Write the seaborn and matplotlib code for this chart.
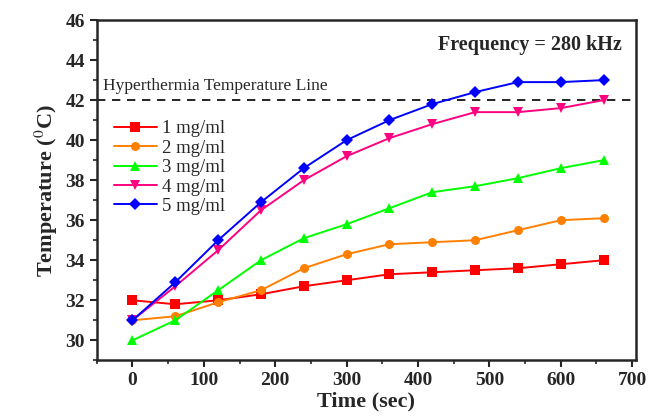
import numpy as np
import pandas as pd
import matplotlib
matplotlib.use("Agg")
import matplotlib.pyplot as plt
import seaborn as sns
from matplotlib.ticker import MultipleLocator

# Datos
tiempo = [0, 60, 120, 180, 240, 300, 360, 420, 480, 540, 600, 660]
conc_1 = [32.0, 31.8, 32.0, 32.3, 32.7, 33.0, 33.3, 33.4, 33.5, 33.6, 33.8, 34.0]
conc_2 = [31.0, 31.2, 31.9, 32.5, 33.6, 34.3, 34.8, 34.9, 35.0, 35.5, 36.0, 36.1]
conc_3 = [30.0, 31.0, 32.5, 34.0, 35.1, 35.8, 36.6, 37.4, 37.7, 38.1, 38.6, 39.0]
conc_4 = [31.0, 32.7, 34.5, 36.5, 38.0, 39.2, 40.1, 40.8, 41.4, 41.4, 41.6, 42.0]
conc_5 = [31.0, 32.9, 35.0, 36.9, 38.6, 40.0, 41.0, 41.8, 42.4, 42.9, 42.9, 43.0]
etiquetas = ["1 mg/ml", "2 mg/ml", "3 mg/ml", "4 mg/ml", "5 mg/ml"]
temp_hipertermia = 42

series = [conc_1, conc_2, conc_3, conc_4, conc_5]
df = pd.concat(
    [pd.DataFrame({"Tiempo": tiempo, "Temperatura": s, "Muestra": e}) for s, e in zip(series, etiquetas)],
    ignore_index=True,
)

sns.set_style("ticks")
plt.rcParams["font.family"] = ["Liberation Serif", "DejaVu Serif"]
plt.rcParams["mathtext.fontset"] = "stix"

colores = ["#FF0000", "#FF8000", "#00FF00", "#FF0080", "#0000FF"]
marcadores = ["s", "o", "^", "v", "D"]

fig, ax = plt.subplots(figsize=(6.54, 4.18), dpi=100)
sns.lineplot(
    data=df, x="Tiempo", y="Temperatura", hue="Muestra", style="Muestra",
    palette=colores, markers=marcadores, dashes=False, markersize=6.5,
    markeredgewidth=0, linewidth=1.4, ax=ax,
)

ax.axhline(temp_hipertermia, color="black", linestyle=(0, (5, 4)), linewidth=1.2, zorder=0)
ax.text(-42, 42.3, "Hyperthermia Temperature Line", fontsize=12.5, va="bottom")
ax.text(0.975, 0.955, "Frequency = 280 kHz", transform=ax.transAxes,
        ha="right", va="top", fontsize=14.5, fontweight="bold")

ax.set_xlim(-50, 705)
ax.set_ylim(29, 46)
ax.xaxis.set_major_locator(MultipleLocator(100))
ax.xaxis.set_minor_locator(MultipleLocator(50))
ax.yaxis.set_major_locator(MultipleLocator(2))
ax.yaxis.set_minor_locator(MultipleLocator(1))
ax.tick_params(which="major", length=5, width=1.5, labelsize=14)
ax.tick_params(which="minor", length=3, width=1.2)
for lab in ax.get_xticklabels() + ax.get_yticklabels():
    lab.set_fontweight("bold")
for sp in ax.spines.values():
    sp.set_linewidth(1.8)

ax.set_xlabel("Time (sec)", fontsize=16, fontweight="bold", labelpad=2)
ax.set_ylabel("Temperature ($^{0}$C)", fontsize=16, fontweight="bold", labelpad=4)

ax.legend(loc="upper left", bbox_to_anchor=(0.0, 0.755), frameon=False, fontsize=13.5,
          handlelength=2.3, handletextpad=0.3, labelspacing=0.12, title=None)

fig.subplots_adjust(left=0.148, right=0.972, top=0.952, bottom=0.138)
fig.savefig("out.png", dpi=100)
